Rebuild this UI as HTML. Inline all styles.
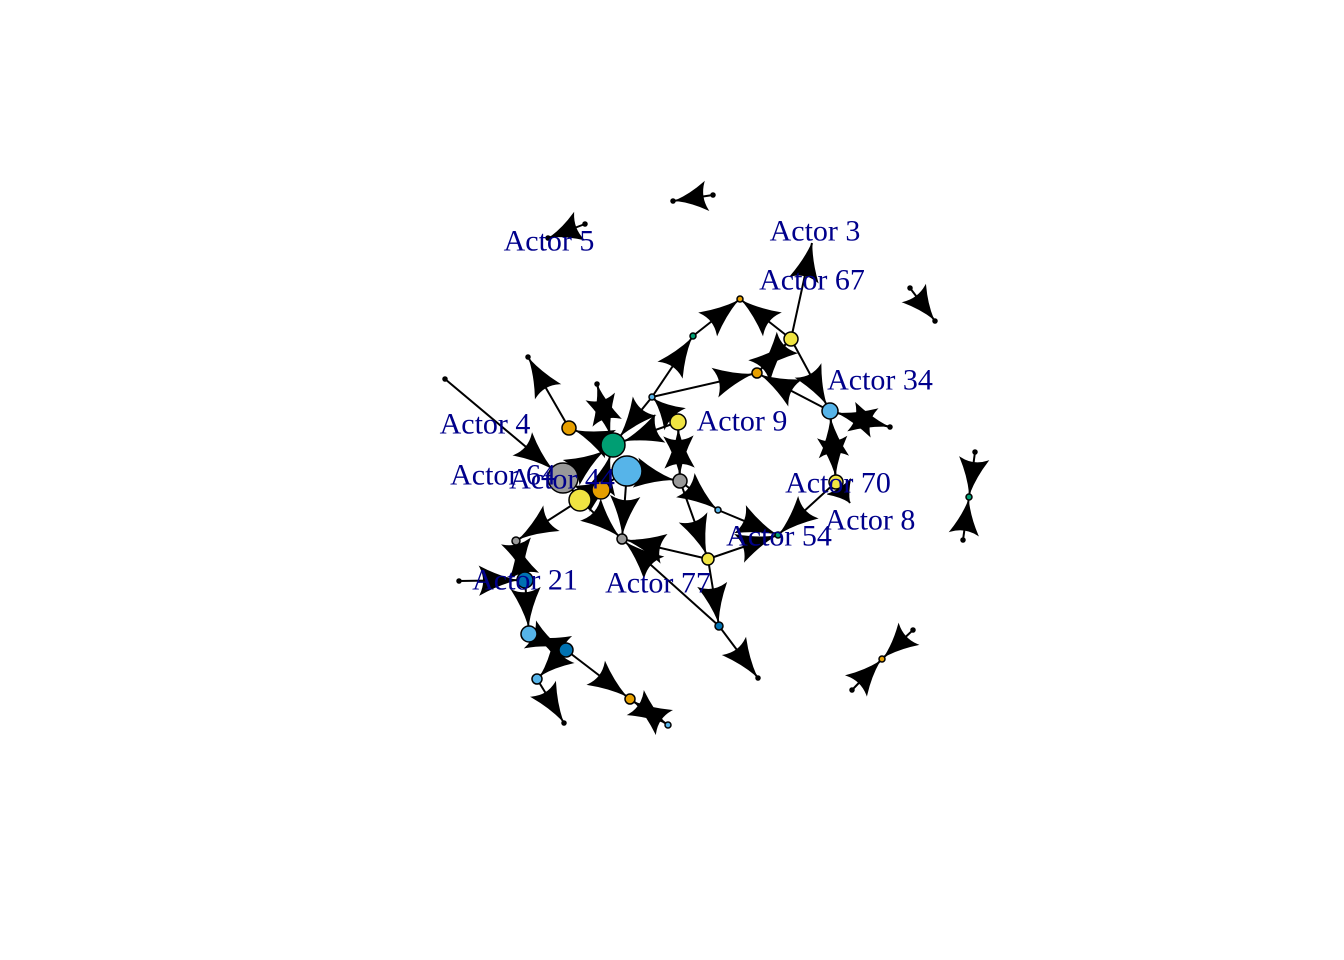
<!DOCTYPE html>
<html><head><meta charset="utf-8"><style>
html,body{margin:0;padding:0;background:#fff;}
svg{display:block;}
text{font-family:"Liberation Serif",serif;font-size:30px;fill:#00008B;text-anchor:middle;dominant-baseline:central;}
</style></head><body>
<svg id="chart" width="1344" height="960"></svg>
<script>
const nodeIds=["p5a","p5b","ta","tb","ra","rb","rc1","rc2","rc3","bc1","bc2","bc3","A","B","C","a3","D","E","F","G","H","I","J","K","L","M","N","O","P","Q","R","S","T","U","V","W","X","Y","Z","AA","AB","AC","AD","AE","AF","AG","AH","a8","a77"];
const nodeX=[585,548,713,673,910,935,975,969,963,913,882,852,740,693,791,812,757,652,678,830,890,836,778,718,680,708,719,758,622,613,627,601,580,563,569,528,597,445,516,525,459,529,566,537,564,630,668,850,640];
const nodeY=[224,238,195,201,288,321,452,497,540,630,659,690,299,336,339,243,373,397,422,411,427,482,535,510,481,559,626,678,539,445,471,490,500,478,428,357,384,379,541,580,581,634,650,679,723,699,725,503,562];
const nodeSize=[2,2,2,2,2,2,2,3,2,2,3,2,3,3,7,0,5,3,8,8,2,7,3,3,7,6,4,2,5,12,15,9,11,15,7,2,2,2,4,8,2,8,7,5,2,5,3,0,0];
const nodeCol=["k","k","k","k","k","k","k","g","k","k","o","k","o","g","y","k","o","l","y","l","k","y","g","l","x","y","b","k","x","g","l","o","y","x","o","k","k","k","x","b","k","l","b","l","k","o","l","k","k"];
const edgeList=["p5a>p5b","ta>tb","ra>rb","rc1>rc2","rc3>rc2","bc1>bc2","bc3>bc2",
"B>A","C>A","C>a3","D>C","C>D","C>G","G>D","E>B","E>D","F>E","F>Q","F>L","L>F","G>H","H>G","G>I","I>G","I>J","I>a8",
"K>J","L>K","M>J","L>M","M>P","M>N","N>P","N>O","R>L","Q>V","V>W","Y>U","X>Q","Q>X","T>Z","Z>AA","AA>Z","AB>AA",
"AA>AC","AC>AD","AD>AC","AD>AE","AE>AF","AD>AG","AG>AH","AH>AG","T>P","R>P","S>Q","U>Q","T>R","E>Q","U>T"];
const labelText=["Actor 5","Actor 3","Actor 67","Actor 34","Actor 4","Actor 9","Actor 64","Actor 44","Actor 70","Actor 8","Actor 54","Actor 21","Actor 77"];
const labelX=[549,815,812,880,485,742,503,562,838,870,779,525,658];
const labelY=[241,231,280,380,424,421,475,479,483,520,536,580,583];
const palette={k:"#000",y:"#F0E442",o:"#E69F00",g:"#009E73",l:"#56B4E9",b:"#0072B2",x:"#999999"};
const svg=document.getElementById('chart');
const NS="http://www.w3.org/2000/svg";
function idx(id){return nodeIds.indexOf(id);}
const gE=document.createElementNS(NS,'g');svg.appendChild(gE);
const gA=document.createElementNS(NS,'g');svg.appendChild(gA);
const gN=document.createElementNS(NS,'g');svg.appendChild(gN);
const gL=document.createElementNS(NS,'g');svg.appendChild(gL);
edgeList.forEach(e=>{
 const [f,t]=e.split('>');
 const a=idx(f),b=idx(t);
 const x1=nodeX[a],y1=nodeY[a],x2=nodeX[b],y2=nodeY[b];
 const ln=document.createElementNS(NS,'line');
 ln.setAttribute('x1',x1);ln.setAttribute('y1',y1);ln.setAttribute('x2',x2);ln.setAttribute('y2',y2);
 ln.setAttribute('stroke','#000');ln.setAttribute('stroke-width','2');
 
 
 gE.appendChild(ln);
 const dx=x2-x1,dy=y2-y1,len=Math.hypot(dx,dy)||1;
 const ux=dx/len,uy=dy/len,nx=-uy,ny=ux;
 const r=nodeSize[b]+1;
 const L=Math.min(36,Math.max(18,len*0.75)),W=14;
 const tx=x2-ux*r,ty=y2-uy*r;
 const bx=tx-ux*L,by=ty-uy*L;
 const p1x=bx+nx*W,p1y=by+ny*W,p2x=bx-nx*W,p2y=by-ny*W;
 const cx=tx-ux*L*0.8,cy=ty-uy*L*0.8;
 const mx=tx-ux*L*0.5,my=ty-uy*L*0.5;
 const s1x=mx+nx*W*0.3,s1y=my+ny*W*0.3,s2x=mx-nx*W*0.3,s2y=my-ny*W*0.3;
 const p=document.createElementNS(NS,'path');
 p.setAttribute('d',`M${tx},${ty} Q${s1x},${s1y} ${p1x},${p1y} Q${cx},${cy} ${p2x},${p2y} Q${s2x},${s2y} ${tx},${ty}Z`);
 p.setAttribute('fill','#000');p.setAttribute('stroke','#000');p.setAttribute('stroke-width','1');
 
 
 gA.appendChild(p);
});
nodeIds.forEach((id,i)=>{
 if(nodeSize[i]<=0)return;
 const c=document.createElementNS(NS,'circle');
 c.setAttribute('cx',nodeX[i]);c.setAttribute('cy',nodeY[i]);c.setAttribute('r',nodeSize[i]);
 c.setAttribute('fill',palette[nodeCol[i]]);c.setAttribute('stroke','#000');c.setAttribute('stroke-width','1.5');
 
 
 gN.appendChild(c);
});
labelText.forEach((t,i)=>{
 const tx=document.createElementNS(NS,'text');
 tx.setAttribute('x',labelX[i]);tx.setAttribute('y',labelY[i]);tx.textContent=t;
 
 
 gL.appendChild(tx);
});
</script>
</body></html>
